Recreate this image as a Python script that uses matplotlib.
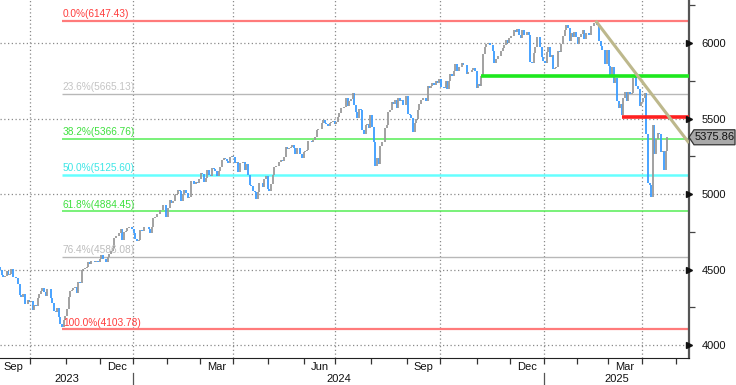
import numpy as np
import pandas as pd
import matplotlib
matplotlib.use("Agg")
from matplotlib import pyplot as plt
from matplotlib.patches import Polygon

plt.rcParams['font.family'] = ['Liberation Sans', 'DejaVu Sans']

# %% daily closes, Sep 2023 .. Apr 23 2025
closes = [
    # Sep 2023
    4515.77, 4496.83, 4465.48, 4451.14, 4457.49, 4487.46, 4461.90, 4467.44, 4505.10, 4450.32,
    4453.53, 4443.95, 4402.20, 4330.00, 4320.06, 4337.44, 4273.53, 4274.51, 4299.70, 4288.05,
    # Oct 2023
    4288.39, 4229.45, 4263.75, 4258.19, 4308.50, 4335.66, 4358.24, 4376.95, 4349.61, 4327.78,
    4373.63, 4373.20, 4314.60, 4278.00, 4224.16, 4217.04, 4247.68, 4186.77, 4137.23, 4117.37,
    4166.82, 4193.80,
    # Nov 2023
    4237.86, 4317.78, 4358.34, 4365.98, 4378.38, 4382.78, 4347.35, 4415.24, 4411.55, 4495.70,
    4502.88, 4508.24, 4514.02, 4547.38, 4538.19, 4556.62, 4559.34, 4550.43, 4554.89, 4550.58,
    4567.80,
    # Dec 2023
    4594.63, 4569.78, 4567.18, 4549.34, 4585.59, 4604.37, 4622.44, 4643.70, 4707.09, 4719.55,
    4719.19, 4740.56, 4768.37, 4698.35, 4746.75, 4754.63, 4774.75, 4781.58, 4783.35, 4769.83,
    # Jan 2024
    4742.83, 4704.81, 4688.68, 4697.24, 4763.54, 4756.50, 4783.45, 4780.24, 4783.83, 4765.98,
    4739.21, 4780.94, 4839.81, 4850.43, 4864.60, 4868.55, 4894.16, 4890.97, 4927.93, 4924.97,
    4845.65,
    # Feb 2024
    4906.19, 4958.61, 4942.81, 4954.23, 4995.06, 4997.91, 5026.61, 5021.84, 4953.17, 5000.62,
    5029.73, 5005.57, 4975.51, 4981.80, 5087.03, 5088.80, 5069.53, 5078.18, 5069.76, 5096.27,
    # Mar 2024
    5137.08, 5130.95, 5078.65, 5104.76, 5157.36, 5123.69, 5117.94, 5175.27, 5165.31, 5150.48,
    5117.09, 5149.42, 5178.51, 5224.62, 5241.53, 5234.18, 5218.19, 5203.58, 5248.49, 5254.35,
    # Apr 2024
    5243.77, 5205.81, 5211.49, 5147.21, 5204.34, 5202.39, 5209.91, 5160.64, 5199.06, 5123.41,
    5061.82, 5051.41, 5022.21, 5011.12, 4967.23, 5010.60, 5070.55, 5071.63, 5048.42, 5099.96,
    5116.17, 5035.69,
    # May 2024
    5018.39, 5064.20, 5127.79, 5180.74, 5187.70, 5187.67, 5214.08, 5222.68, 5221.42, 5246.68,
    5308.15, 5297.10, 5303.27, 5308.13, 5321.41, 5307.01, 5267.84, 5304.72, 5306.04, 5266.95,
    5235.48, 5277.51,
    # Jun 2024
    5283.40, 5291.34, 5354.03, 5352.96, 5346.99, 5360.79, 5375.32, 5421.03, 5433.74, 5431.60,
    5473.23, 5487.03, 5473.17, 5464.62, 5447.87, 5469.30, 5477.90, 5482.87, 5460.48,
    # Jul 2024
    5475.09, 5509.01, 5537.02, 5567.19, 5572.85, 5576.98, 5633.91, 5584.54, 5615.35, 5631.22,
    5667.20, 5588.27, 5544.59, 5505.00, 5564.41, 5555.74, 5427.13, 5399.22, 5459.10, 5463.54,
    5436.44, 5522.30,
    # Aug 2024
    5446.68, 5346.56, 5186.33, 5240.03, 5199.50, 5319.31, 5344.16, 5344.39, 5434.43, 5455.21,
    5543.22, 5554.25, 5608.25, 5597.12, 5620.85, 5570.64, 5634.61, 5616.84, 5625.80, 5592.18,
    5591.96, 5648.40,
    # Sep 2024
    5528.93, 5520.07, 5503.41, 5408.42, 5471.05, 5495.52, 5554.13, 5595.76, 5626.02, 5633.09,
    5634.58, 5618.26, 5713.64, 5702.55, 5718.57, 5732.93, 5722.26, 5745.37, 5738.17, 5762.48,
    # Oct 2024
    5708.75, 5709.54, 5699.94, 5751.07, 5695.94, 5751.13, 5792.04, 5780.05, 5815.03, 5859.85,
    5815.26, 5842.47, 5841.47, 5864.67, 5853.98, 5851.20, 5797.42, 5809.86, 5808.12, 5823.52,
    5832.92, 5813.67, 5705.45,
    # Nov 2024
    5728.80, 5712.69, 5782.76, 5929.04, 5973.10, 5995.54, 6001.35, 5983.99, 5985.38, 5949.17,
    5870.62, 5893.62, 5916.98, 5917.11, 5948.71, 5969.34, 5987.37, 6021.63, 5998.74, 6032.38,
    # Dec 2024
    6047.15, 6049.88, 6086.49, 6075.11, 6090.27, 6052.85, 6034.91, 6084.19, 6051.25, 6051.09,
    6074.08, 6050.61, 5872.16, 5867.08, 5930.85, 5974.07, 6040.04, 6037.59, 5970.84, 5906.94,
    5881.63,
    # Jan 2025
    5868.55, 5942.47, 5975.38, 5909.03, 5918.25, 5827.04, 5836.22, 5842.91, 5949.91, 5937.34,
    5996.66, 6049.24, 6086.37, 6118.71, 6101.24, 6012.28, 6067.70, 6039.31, 6071.17, 6040.53,
    # Feb 2025
    5994.57, 6037.88, 6061.48, 6083.57, 6025.99, 6066.44, 6068.50, 6051.97, 6115.07, 6114.63,
    6129.58, 6144.15, 6117.52, 6013.13, 5983.25, 5955.25, 5956.06, 5861.57, 5954.50,
    # Mar 2025
    5849.72, 5778.15, 5842.63, 5738.52, 5770.20, 5614.56, 5572.07, 5599.30, 5521.52, 5638.94,
    5675.12, 5614.66, 5675.29, 5662.89, 5667.56, 5767.57, 5776.65, 5712.20, 5693.31, 5580.94,
    5611.85,
    # Apr 2025
    5633.07, 5670.97, 5396.52, 5074.08, 5062.25, 4982.77, 5456.90, 5268.05, 5363.36, 5405.97,
    5396.63, 5275.70, 5282.70, 5158.20, 5287.76, 5375.86,
]

holidays = ["2023-09-04", "2023-11-23", "2023-12-25", "2024-01-01", "2024-01-15",
            "2024-02-19", "2024-03-29", "2024-05-27", "2024-06-19", "2024-07-04",
            "2024-09-02", "2024-11-28", "2024-12-25", "2025-01-01", "2025-01-09",
            "2025-01-20", "2025-02-17", "2025-04-18"]

fib_pct = ["0.0%", "23.6%", "38.2%", "50.0%", "61.8%", "76.4%", "100.0%"]
fib_vals = [6147.43, 5665.13, 5366.76, 5125.60, 4884.45, 4586.08, 4103.78]
fib_line_colors = ["#ff7b7b", "#b8b8b8", "#55ee55", "#66ffff", "#55ee55", "#b8b8b8", "#ff7b7b"]
fib_text_colors = ["#ff3c3c", "#c4c4c4", "#3ee03e", "#3ee6e6", "#3ee03e", "#bdbdbd", "#ff3c3c"]
fib_widths = [1.6, 1.0, 1.1, 1.8, 1.1, 1.0, 1.6]

support_level = 5782.76      # green, from 2024-11-05
resist_level = 5510.0        # red, from 2025-03-13
last_price = 5375.86

# %%
dates = pd.bdate_range("2023-09-01", "2025-04-23")
dates = dates[~dates.isin(pd.to_datetime(holidays))]
closes = np.array(closes)
n = len(closes)
dates = dates[:n]
idx = np.arange(n)


def date_idx(d):
    return int(np.searchsorted(dates.values, np.datetime64(pd.Timestamp(d))))


fig = plt.figure(figsize=(7.36, 3.85), dpi=100)
ax = fig.add_axes([0.0, 1 - 358 / 385, 689 / 736, 358 / 385])
ymin, ymax = 3914, 6285
xmin, xmax = 0.98, 423.2
ax.set_xlim(xmin, xmax)
ax.set_ylim(ymin, ymax)

# grid
grid_kw = dict(color="#8a8a8a", lw=0.9, ls=(0, (1, 2)), zorder=0)
for y in [4000, 4500, 5000, 5500, 6000]:
    ax.axhline(y, **grid_kw)
month_starts = [i for i in range(1, n) if dates[i].month != dates[i - 1].month]
month_starts.append(n + 5)   # May 2025, beyond the data
quarter_lines = [i for i in month_starts[:-1] if dates[i].month in (1, 4, 7, 10)]
for i in quarter_lines:
    ax.axvline(i - 0.5, **grid_kw)

# bars: prev close -> close, blue down / gray up
prev = np.concatenate([[closes[0] + 10], closes[:-1]])
down = closes < prev
ax.vlines(idx[down], prev[down], closes[down], color="#3a9cff", lw=1.3, zorder=3)
ax.vlines(idx[~down], prev[~down], closes[~down], color="#9a9a9a", lw=1.3, zorder=3)

# fibonacci retracement
low_i = date_idx("2023-10-27")
for p, v, lc, tc, w in zip(fib_pct, fib_vals, fib_line_colors, fib_text_colors, fib_widths):
    ax.hlines(v, low_i, xmax, color=lc, lw=w, zorder=2)
    ax.text(low_i + 0.5, v + 12, f"{p}({v:.2f})", color=tc, fontsize=7.3,
            ha="left", va="bottom", zorder=4)

# extra lines
ax.hlines(support_level, date_idx("2024-11-05"), xmax, color="#1ee81e", lw=2.6, zorder=4)
ax.hlines(resist_level, date_idx("2025-03-13"), xmax, color="#ff2020", lw=2.6, zorder=4)
peak_i = date_idx("2025-02-19")
ax.plot([peak_i, xmax], [6147.43, 5338], color="#bdb88c", lw=2.2, zorder=5,
        solid_capstyle="butt")

# axes styling
for s in ["top", "left"]:
    ax.spines[s].set_visible(False)
ax.spines["right"].set_color("#555555")
ax.spines["right"].set_linewidth(1.6)
ax.spines["bottom"].set_color("#222222")

ax.yaxis.tick_right()
ax.set_yticks([4000, 4500, 5000, 5500, 6000])
ax.set_yticks([4250, 4750, 5250, 5750, 6250], minor=True)
ax.tick_params(axis="y", which="major", length=0, pad=9, labelsize=8, labelcolor="#111111")
ax.tick_params(axis="y", which="minor", length=4, width=0.9, color="#444444")
ax.plot([1.0] * 5, [4000, 4500, 5000, 5500, 6000], marker=">", ms=4.5, color="#111111",
        ls="none", transform=ax.get_yaxis_transform(), clip_on=False, zorder=6)

# x ticks: month boundaries, labels mid-month for Sep/Dec/Mar/Jun
ax.set_xticks([i - 0.5 for i in month_starts])
ax.set_xticklabels([])
ax.tick_params(axis="x", which="major", length=4, width=0.9, color="#333333", direction="out")
lab_pos, lab_txt = [], []
bounds = [0] + month_starts
for a, b in zip(bounds[:-1], bounds[1:]):
    m = dates[a].month
    if m in (3, 6, 9, 12):
        lab_pos.append((a + min(b, n) - 1) / 2)
        lab_txt.append(dates[a].strftime("%b"))
ax.set_xticks(lab_pos, minor=True)
ax.set_xticklabels(lab_txt, minor=True)
ax.tick_params(axis="x", which="minor", length=0, pad=3, labelsize=8, labelcolor="#111111")

# years
xt = ax.get_xaxis_transform()
year_bounds = [i for i in month_starts[:-1] if dates[i].month == 1]
edges = [xmin] + [i - 0.5 for i in year_bounds] + [xmax]
for (a, b), yr in zip(zip(edges[:-1], edges[1:]), ["2023", "2024", "2025"]):
    ax.text((a + b) / 2, -0.058, yr, transform=xt, ha="center", va="center",
            fontsize=8, color="#111111")
for i in year_bounds:
    ax.plot([i - 0.5, i - 0.5], [-0.042, -0.08], transform=xt, color="#555555",
            lw=0.9, clip_on=False)

# last price tag
pos = ax.get_position()
fy = pos.y0 + (last_price - ymin) / (ymax - ymin) * pos.height
x0 = pos.x1
h = 7.5 / 385
tag = Polygon([[x0, fy], [x0 + 5 / 736, fy + h], [735 / 736, fy + h],
               [735 / 736, fy - h], [x0 + 5 / 736, fy - h]], closed=True,
              transform=fig.transFigure, facecolor="#a9a9a9", edgecolor="#333333",
              lw=0.9, clip_on=False, zorder=7)
fig.patches.append(tag)
fig.text((x0 + 5 / 736 + 735 / 736) / 2, fy, f"{last_price:.2f}", ha="center",
         va="center", fontsize=8, color="#111111", zorder=8)

fig.savefig("out.png", dpi=100)
